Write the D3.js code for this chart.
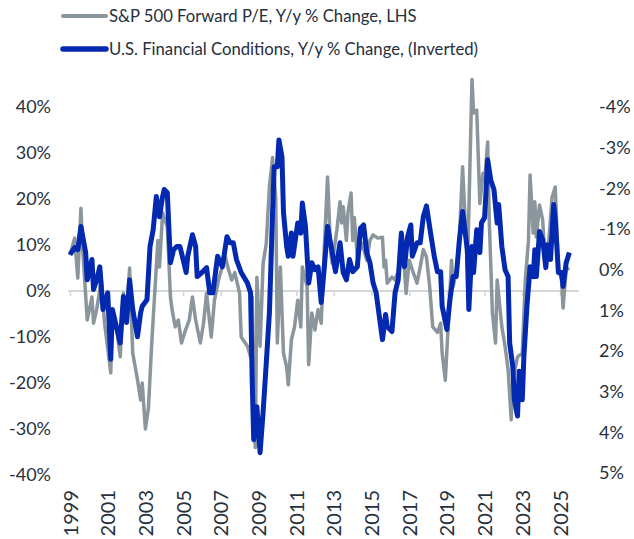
<!DOCTYPE html>
<html>
<head>
<meta charset="utf-8">
<script src="https://cdn.jsdelivr.net/npm/d3@7"></script>
<style>
  body { margin: 0; background: #fff; }
  text { font-family: Lato, sans-serif; fill: #25303d; }
</style>
</head>
<body>
<div id="chart"></div>
<script>
const width = 634;
const height = 539;

// S&P 500 forward P/E, y/y % change (left axis)
const peDates = ["1999-01","1999-04","1999-06","1999-08","1999-09","1999-12","2000-03","2000-04","2000-06","2000-09","2000-11",
  "2001-03","2001-04","2001-07","2001-09","2001-11","2002-01","2002-03","2002-05","2002-08","2002-10","2002-11",
  "2003-01","2003-03","2003-05","2003-07","2003-09","2003-10","2003-12","2004-03","2004-05","2004-06","2004-08","2004-10","2004-12",
  "2005-02","2005-05","2005-07","2005-09","2005-12","2006-02","2006-04","2006-07","2006-09","2006-12",
  "2007-04","2007-06","2007-08","2007-10","2008-01","2008-02","2008-06","2008-08","2008-09","2008-10","2008-11","2008-12",
  "2009-02","2009-04","2009-06","2009-08","2009-10","2009-12","2010-01","2010-03","2010-05","2010-07","2010-08","2010-10","2010-12",
  "2011-02","2011-04","2011-05","2011-08","2011-09","2011-11","2012-01","2012-03","2012-05","2012-07","2012-09","2012-11","2012-12",
  "2013-03","2013-05","2013-06","2013-07","2013-09","2013-10","2013-12","2014-01","2014-02","2014-04","2014-07","2014-10","2014-12",
  "2015-02","2015-05","2015-08","2015-09","2015-10","2015-11","2016-02","2016-04","2016-07","2016-09","2016-11",
  "2017-01","2017-03","2017-06","2017-08","2017-10","2017-12","2018-02","2018-04","2018-07","2018-09","2018-10","2018-12",
  "2019-02","2019-04","2019-05","2019-07","2019-09","2019-11","2020-02","2020-03","2020-05","2020-06","2020-08","2020-10","2020-12",
  "2021-01","2021-03","2021-04","2021-06","2021-08","2021-09","2021-12","2022-02","2022-04","2022-06","2022-07","2022-10",
  "2023-01","2023-03","2023-05","2023-06","2023-08","2023-09","2023-10","2023-12","2024-02","2024-03","2024-05","2024-08","2024-10","2024-12",
  "2025-02","2025-03","2025-05","2025-07"];
const peValues = [7.8,11.5,2.8,18,9.6,-6.3,-1.3,-7,-4,2.4,-7,
  -17.8,-4.8,-9,-14.3,-0.5,-4.8,5,-13.5,-19.3,-23.7,-20,
  -30,-25.5,-12,-0.5,11,5.2,17,14,-1.3,-4,-7.8,-6.3,-11.3,
  -9,-6.3,-1.3,-6.3,-11.3,-7,-0.5,-10,-2,3,
  7.4,4.6,2.4,4,-0.5,-10,-12,-14.3,-1.3,-28,-34,3,
  -12,6,10.4,22.6,29,20.4,-11.3,5.2,-13.5,-16.5,-20.4,-10.6,-7.8,
  -2,-7.8,5.2,1,-16,-4.8,-8.5,-4,-7,9.6,24.8,8.3,6,
  13.3,19.4,14.8,18.3,11,17,21.3,11,16,7.4,10.4,6.7,11,
  12.2,11.5,11.7,5.2,6.7,1.7,3,2.4,5.2,9.6,-0.5,
  6.7,4.6,1.7,5.2,9,7.4,1,-7.8,-9,-7,-13.5,-19.4,
  -6.3,6.7,1,4,11.7,27,5.2,17,46,38.7,39.3,19,25.6,
  24,32.4,15.4,-4.8,-11.3,2.4,-7.8,-12,-17,-28,-19.4,-14.3,
  -13.5,2.4,11,25.2,12.6,19.4,11.7,18.7,15.4,9.6,6.7,20.4,22.6,4.6,
  2.4,-3.7,4.6,5];

// U.S. financial conditions, y/y % change, inverted (right axis)
const fciDates = ["1999-01","1999-04","1999-06","1999-08","1999-11","1999-12","2000-03","2000-04","2000-06","2000-08","2000-10",
  "2001-01","2001-03","2001-04","2001-07","2001-09","2001-11","2002-01","2002-03","2002-05","2002-08","2002-10","2002-11",
  "2003-02","2003-04","2003-06","2003-08","2003-10","2003-12","2004-01","2004-03","2004-05","2004-07","2004-09","2004-11",
  "2005-01","2005-03","2005-04","2005-07","2005-09","2005-10","2006-01","2006-04","2006-06","2006-08","2006-11",
  "2007-02","2007-05","2007-07","2007-09","2007-11","2008-02","2008-06","2008-08","2008-09","2008-10","2008-12",
  "2009-02","2009-04","2009-06","2009-08","2009-10","2009-11","2010-01","2010-02","2010-04","2010-05","2010-07","2010-08","2010-10","2010-11",
  "2011-02","2011-04","2011-05","2011-07","2011-09","2011-11","2012-01","2012-03","2012-05","2012-07","2012-09","2012-12",
  "2013-02","2013-05","2013-07","2013-09","2013-11","2014-01","2014-04","2014-06","2014-08","2014-10","2014-12",
  "2015-02","2015-04","2015-06","2015-08","2015-10","2015-11","2016-02","2016-04","2016-06","2016-08","2016-10","2016-12",
  "2017-02","2017-03","2017-06","2017-08","2017-10","2017-12","2018-03","2018-05","2018-07","2018-09","2018-10",
  "2019-01","2019-03","2019-05","2019-07","2019-09","2019-11","2020-02","2020-03","2020-05","2020-06","2020-08","2020-10","2020-11",
  "2021-01","2021-03","2021-05","2021-07","2021-09","2021-10","2021-12","2022-02","2022-04","2022-05","2022-07","2022-08","2022-10","2022-11",
  "2023-01","2023-02","2023-04","2023-06","2023-08","2023-09","2023-10","2023-12","2024-02","2024-04","2024-05","2024-07","2024-09","2024-10","2024-12",
  "2025-02","2025-03","2025-05","2025-07"];
const fciValues = [-0.37,-0.54,-0.49,-1.06,-0.42,0.25,-0.25,0.49,0.25,-0.07,0.98,
  0.57,2.2,0.98,1.47,1.8,0.66,1.3,0.25,0.98,1.65,1.06,0.9,
  0.74,-0.57,-0.98,-1.8,-1.3,-1.8,-1.97,-1.89,-0.17,-0.49,-0.57,-0.57,
  -0.25,0.07,-0.33,-0.86,-0.57,0.17,0.07,-0.05,0.57,0.57,-0.33,
  -0.07,-0.81,-0.66,-0.66,-0.25,0.07,0.33,0.57,2.7,4.18,3.37,
  4.5,3.5,2.3,1.06,-1.4,-2.53,-2.53,-3.19,-2.78,-1.4,-0.57,-0.33,-0.9,-0.33,
  -1.15,-0.9,-1.64,-1.06,0.33,-0.17,0,-0.07,0.81,-0.07,-1.06,-0.42,
  0.05,-0.66,0.07,0.25,-0.25,0.05,-0.07,-1.02,-1.1,-0.42,-0.17,
  0.33,0.57,1.15,1.72,1.1,1.4,1.52,0.57,0.25,-0.9,-0.07,-0.81,
  -1.1,-0.33,-0.66,-0.66,-1.3,-1.57,-0.81,-0.33,0.05,0.05,0.9,
  1.47,0.74,0.17,0.17,-0.74,-1.43,-0.49,0.98,-0.57,0.07,-0.98,-0.42,-1.15,
  -1.28,-2.7,-2.2,-1.97,-1.15,-1.6,-0.57,0,0.17,1.8,2.38,3.2,3.6,2.5,
  3.2,2.14,0.9,-0.07,0.17,-0.49,0.17,-0.94,-0.74,-0.05,-0.61,-0.25,-1.6,-1.23,0.07,
  0.07,0.41,-0.17,-0.42];

const leftTicks = [40, 30, 20, 10, 0, -10, -20, -30, -40];
const rightTicks = [-4, -3, -2, -1, 0, 1, 2, 3, 4, 5];
const yearTicks = [1999, 2001, 2003, 2005, 2007, 2009, 2011, 2013, 2015, 2017, 2019, 2021, 2023, 2025];

const legendItems = [
  { label: "S&P 500 Forward P/E, Y/y % Change, LHS", color: "#8b959c", width: 3.5 },
  { label: "U.S. Financial Conditions, Y/y % Change, (Inverted)", color: "#0329b0", width: 5 }
];

const parse = d3.timeParse("%Y-%m");
const pe = peDates.map((d, i) => ({ date: parse(d), value: peValues[i] }));
const fci = fciDates.map((d, i) => ({ date: parse(d), value: fciValues[i] }));

const svg = d3.select("#chart")
  .append("svg")
  .attr("width", width)
  .attr("height", height);

const x = d3.scaleTime()
  .domain([new Date(1999, 0, 1), new Date(2025, 0, 1)])
  .range([70, 560]);

const yLeft = d3.scaleLinear()
  .domain([-40, 40])
  .range([475, 107]);

const yRight = d3.scaleLinear()
  .domain([-4, 5])
  .range([107, 473]);

// left axis
svg.append("g")
  .attr("transform", "translate(51,0)")
  .call(d3.axisLeft(yLeft).tickValues(leftTicks).tickFormat(d => d + "%").tickSize(0).tickPadding(0))
  .call(g => g.select(".domain").remove())
  .selectAll("text")
  .style("font-size", "18px")
  .style("font-family", "Lato, sans-serif")
  .attr("fill", "#25303d");

// right axis
svg.append("g")
  .attr("transform", "translate(599,0)")
  .call(d3.axisRight(yRight).tickValues(rightTicks).tickFormat(d => d + "%").tickSize(0).tickPadding(0))
  .call(g => g.select(".domain").remove())
  .selectAll("text")
  .style("font-size", "18px")
  .style("font-family", "Lato, sans-serif")
  .attr("fill", "#25303d");

// zero baseline with year ticks
const y0 = yLeft(0);
svg.append("line")
  .attr("x1", 68).attr("x2", 579)
  .attr("y1", y0).attr("y2", y0)
  .attr("stroke", "#d6d6d6")
  .attr("stroke-width", 2);

svg.append("g")
  .attr("transform", `translate(0,${y0})`)
  .call(d3.axisBottom(x).tickValues(yearTicks.map(y => new Date(y, 0, 1))).tickFormat("").tickSize(5))
  .call(g => g.select(".domain").remove())
  .selectAll("line")
  .attr("stroke", "#d6d6d6")
  .attr("stroke-width", 1.5);

// year labels
svg.append("g")
  .attr("transform", "translate(0,490)")
  .call(d3.axisBottom(x).tickValues(yearTicks.map(y => new Date(y, 0, 1))).tickFormat(d3.timeFormat("%Y")).tickSize(0).tickPadding(0))
  .call(g => g.select(".domain").remove())
  .selectAll("text")
  .attr("transform", "rotate(-90)")
  .attr("text-anchor", "end")
  .attr("dy", "0.35em")
  .attr("x", 0)
  .attr("y", 0)
  .style("font-size", "20px")
  .style("font-family", "Lato, sans-serif")
  .attr("fill", "#25303d");

const linePe = d3.line()
  .x(d => x(d.date))
  .y(d => yLeft(d.value));

const lineFci = d3.line()
  .x(d => x(d.date))
  .y(d => yRight(d.value));

svg.append("path")
  .datum(pe)
  .attr("d", linePe)
  .attr("fill", "none")
  .attr("stroke", legendItems[0].color)
  .attr("stroke-width", legendItems[0].width)
  .attr("stroke-linejoin", "round");

svg.append("path")
  .datum(fci)
  .attr("d", lineFci)
  .attr("fill", "none")
  .attr("stroke", legendItems[1].color)
  .attr("stroke-width", legendItems[1].width)
  .attr("stroke-linejoin", "round");

// legend
const legend = svg.append("g");
legendItems.forEach((item, i) => {
  const ly = 16 + i * 33;
  legend.append("line")
    .attr("x1", 63).attr("x2", 106)
    .attr("y1", ly).attr("y2", ly)
    .attr("stroke", item.color)
    .attr("stroke-width", item.width + 0.5)
    .attr("stroke-linecap", "round");
  legend.append("text")
    .attr("x", 109)
    .attr("y", ly)
    .attr("dy", "0.35em")
    .style("font-size", "16.7px")
    .style("font-family", "Lato, sans-serif")
    .text(item.label);
});
</script>
</body>
</html>
